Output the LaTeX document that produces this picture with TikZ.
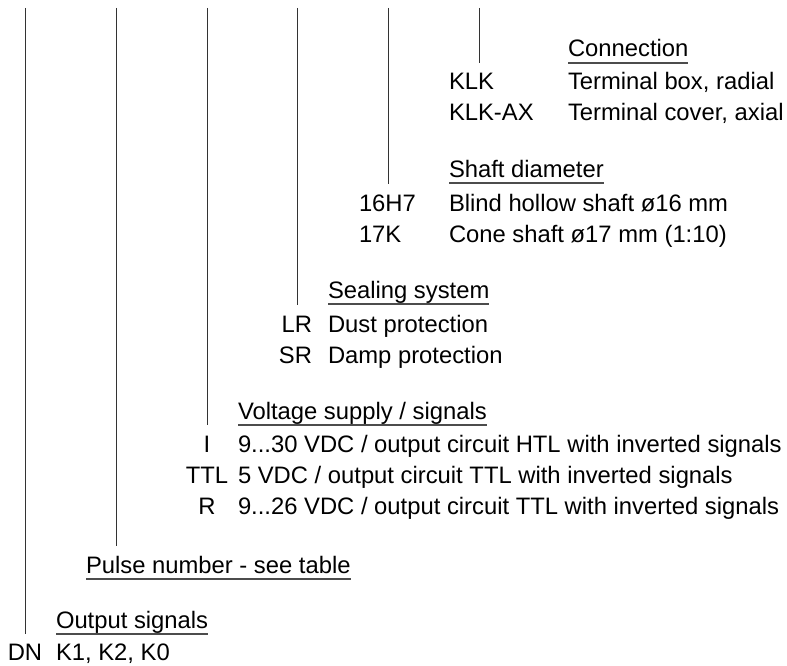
\documentclass[tikz,border=0pt]{standalone}
\usepackage{fontspec}
\setmainfont{Liberation Sans}
\begin{document}
\begin{tikzpicture}[x=1pt,y=-1pt,
  txt/.style={inner sep=0pt, outer sep=0pt, anchor=base west, text=black,
    font=\fontsize{23.8}{28}\selectfont},
  codec/.style={txt, anchor=base},
  coder/.style={txt, anchor=base east},
  head/.style={txt},
  vline/.style={draw=black!80, line width=0.9pt},
  uline/.style={draw=black!70, line width=1.2pt}
]
\useasboundingbox (0,0) rectangle (787,666);

% top ends of the code lines
\coordinate (t1) at (25,8);
\coordinate (t2) at (116,8);
\coordinate (t3) at (207,8);
\coordinate (t4) at (297,8);
\coordinate (t5) at (388,8);
\coordinate (t6) at (479,8);
% lower ends
\coordinate (e1) at (25,634);
\coordinate (e2) at (116,546);
\coordinate (e3) at (207,425);
\coordinate (e4) at (297,305);
\coordinate (e5) at (388,184);
\coordinate (e6) at (479,63);

% Connection
\node[head] (hC) at (568,57) {Connection};
\node[txt] (cKLK) at (449,90) {KLK};
\node[txt] (dKLK) at (568,90) {Terminal box, radial};
\node[txt] (cKLKAX) at (449,121) {KLK-AX};
\node[txt] (dKLKAX) at (568,121) {Terminal cover, axial};

% Shaft diameter
\node[head] (hS) at (449,177) {Shaft diameter};
\node[txt] (c16) at (359,211) {16H7};
\node[txt] (d16) at (449,211) {Blind hollow shaft ø16 mm};
\node[txt] (c17) at (359,242) {17K};
\node[txt] (d17) at (449,242) {Cone shaft ø17 mm (1:10)};

% Sealing system
\node[head] (hSe) at (328,298) {Sealing system};
\node[coder] (cLR) at (312,332) {LR};
\node[txt] (dLR) at (328,332) {Dust protection};
\node[coder] (cSR) at (312,363) {SR};
\node[txt] (dSR) at (328,363) {Damp protection};

% Voltage supply / signals
\node[head] (hV) at (238,419) {Voltage supply / signals};
\node[codec] (cI) at (207,452) {I};
\node[txt] (dI) at (238,452) {9...30 VDC / output circuit HTL with inverted signals};
\node[codec] (cTTL) at (207,483) {TTL};
\node[txt] (dTTL) at (238,483) {5 VDC / output circuit TTL with inverted signals};
\node[codec] (cR) at (207,514) {R};
\node[txt] (dR) at (238,514) {9...26 VDC / output circuit TTL with inverted signals};

% Pulse number
\node[head] (hP) at (86,573) {Pulse number - see table};

% Output signals
\node[head] (hO) at (56,628) {Output signals};
\node[codec] (cDN) at (25,660) {DN};
\node[txt] (dDN) at (56,660) {K1, K2, K0};

% underlines
\foreach \h in {hC,hS,hSe,hV,hP,hO}
  \draw[uline] ([yshift=-6pt]\h.base west) -- ([yshift=-6pt]\h.base east);

% vertical lines
\foreach \i in {1,...,6}
  \draw[vline] (t\i) -- (e\i);
\end{tikzpicture}
\end{document}
